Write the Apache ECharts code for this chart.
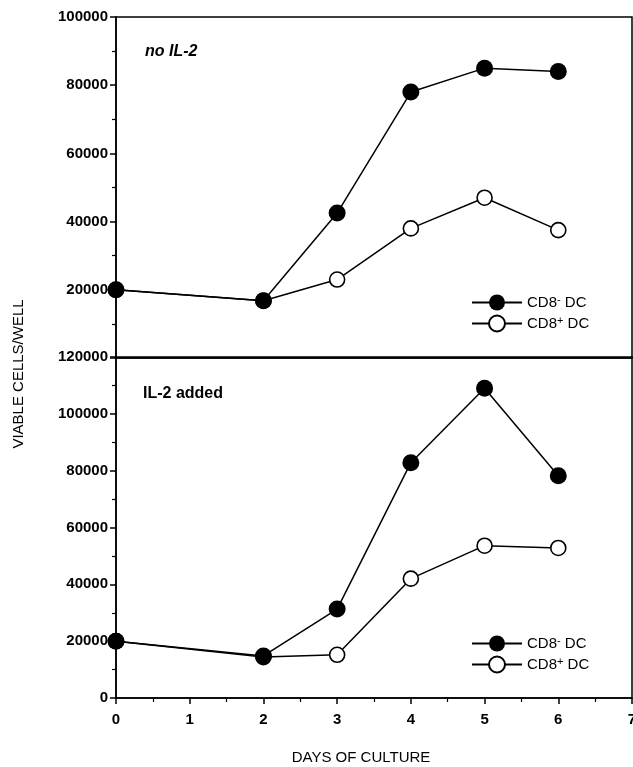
<!DOCTYPE html>
<html>
<head>
<meta charset="utf-8">
<script src="https://cdn.jsdelivr.net/npm/echarts@6/dist/echarts.min.js"></script>
<style>
  html, body { margin: 0; padding: 0; background: #fff; }
  #chart { width: 633px; height: 767px; }
</style>
</head>
<body>
<div id="chart"></div>
<script>
// days of culture
var days = [0, 2, 3, 4, 5, 6];

// no IL-2 panel
var noIL2_cd8neg = [20000, 16800, 42500, 78000, 85000, 84000];
var noIL2_cd8pos = [20000, 16800, 23000, 38000, 47000, 37500];

// IL-2 added panel
var il2_cd8neg = [20000, 14800, 31300, 82800, 109000, 78200];
var il2_cd8pos = [20000, 14400, 15200, 42000, 53600, 52800];

var seriesNames = ['CD8- DC', 'CD8+ DC'];

function pairs(xs, ys) {
    return xs.map(function (x, i) { return [x, ys[i]]; });
}

var font = 'Liberation Sans, Arial, sans-serif';

var dom = document.getElementById('chart');
var myChart = echarts.init(dom);

var axisLineStyle = { color: '#000', width: 1.5 };

function legendFmt(name) {
    if (name === 'CD8- DC') return '{t|CD8}{s|-}{t| DC}';
    return '{t|CD8}{s|+}{t| DC}';
}
var legendRich = {
    t: { fontSize: 15, fontFamily: font, color: '#000' },
    s: { fontSize: 11, fontFamily: font, color: '#000', verticalAlign: 'bottom', padding: [0, 0, 6, 0] }
};

function plainNum(v) { return String(v); }

function mkSeries(name, data, idx, filled) {
    return {
        name: name,
        type: 'line',
        xAxisIndex: idx,
        yAxisIndex: idx,
        data: data,
        symbol: 'circle',
        symbolSize: filled ? 17 : 15,
        showAllSymbol: true,
        animation: false,
        z: filled ? 3 : 2,
        lineStyle: { color: '#000', width: 1.5 },
        itemStyle: {
            color: filled ? '#000' : '#fff',
            borderColor: '#000',
            borderWidth: filled ? 0 : 1.6
        }
    };
}

var legendBase = {
    orient: 'vertical', itemWidth: 50, itemHeight: 20, itemGap: 4,
    formatter: legendFmt, textStyle: { rich: legendRich }
};

var option = {
    backgroundColor: '#fff',
    animation: false,
    grid: [
        { left: 116, top: 17, width: 516, height: 341, show: true, borderColor: '#000', borderWidth: 1.5, outerBoundsMode: 'none', containLabel: false },
        { left: 116, top: 357, width: 516, height: 341, show: true, borderColor: '#000', borderWidth: 1.5, outerBoundsMode: 'none', containLabel: false }
    ],
    legend: [
        Object.assign({ data: seriesNames, left: 466, top: 289 }, legendBase),
        Object.assign({ data: seriesNames, left: 466, top: 630 }, legendBase)
    ],
    xAxis: [
        {
            type: 'value', gridIndex: 0, min: 0, max: 7, interval: 1,
            axisLine: { show: true, lineStyle: axisLineStyle },
            axisTick: { show: false }, axisLabel: { show: false },
            splitLine: { show: false }
        },
        {
            type: 'value', gridIndex: 1, min: 0, max: 7, interval: 1,
            axisLine: { show: true, onZero: false, lineStyle: axisLineStyle },
            axisTick: { show: true, inside: false, length: 6, lineStyle: axisLineStyle },
            minorTick: { show: true, splitNumber: 2, length: 4, lineStyle: { color: '#000', width: 1.2 } },
            axisLabel: { color: '#000', fontSize: 15, fontWeight: 'bold', fontFamily: font, margin: 14 },
            splitLine: { show: false }
        }
    ],
    yAxis: [
        {
            type: 'value', gridIndex: 0, min: 0, max: 100000, interval: 20000,
            axisLine: { show: true, onZero: false, lineStyle: axisLineStyle },
            axisTick: { show: true, length: 6, lineStyle: axisLineStyle },
            minorTick: { show: true, splitNumber: 2, length: 4, lineStyle: { color: '#000', width: 1.2 } },
            axisLabel: { color: '#000', fontSize: 15, fontWeight: 'bold', fontFamily: font, margin: 8, showMinLabel: false, formatter: plainNum },
            splitLine: { show: false }
        },
        {
            type: 'value', gridIndex: 1, min: 0, max: 120000, interval: 20000,
            axisLine: { show: true, onZero: false, lineStyle: axisLineStyle },
            axisTick: { show: true, length: 6, lineStyle: axisLineStyle },
            minorTick: { show: true, splitNumber: 2, length: 4, lineStyle: { color: '#000', width: 1.2 } },
            axisLabel: { color: '#000', fontSize: 15, fontWeight: 'bold', fontFamily: font, margin: 8, formatter: plainNum },
            splitLine: { show: false }
        }
    ],
    graphic: [
        {
            type: 'text', left: 145, top: 44,
            style: { text: 'no IL-2', font: 'italic bold 16px ' + font, fill: '#000' }
        },
        {
            type: 'text', left: 143, top: 386,
            style: { text: 'IL-2 added', font: 'bold 16px ' + font, fill: '#000' }
        },
        {
            type: 'text', x: 19, y: 374, rotation: Math.PI / 2,
            style: { text: 'VIABLE CELLS/WELL', font: '15px ' + font, fill: '#000', align: 'center', verticalAlign: 'middle' }
        },
        {
            type: 'text', x: 361, y: 758,
            style: { text: 'DAYS OF CULTURE', font: '15px ' + font, fill: '#000', align: 'center', verticalAlign: 'middle' }
        }
    ],
    series: [
        mkSeries(seriesNames[1], pairs(days, noIL2_cd8pos), 0, false),
        mkSeries(seriesNames[0], pairs(days, noIL2_cd8neg), 0, true),
        mkSeries(seriesNames[1], pairs(days, il2_cd8pos), 1, false),
        mkSeries(seriesNames[0], pairs(days, il2_cd8neg), 1, true)
    ]
};

myChart.setOption(option, true);
</script>
</body>
</html>
